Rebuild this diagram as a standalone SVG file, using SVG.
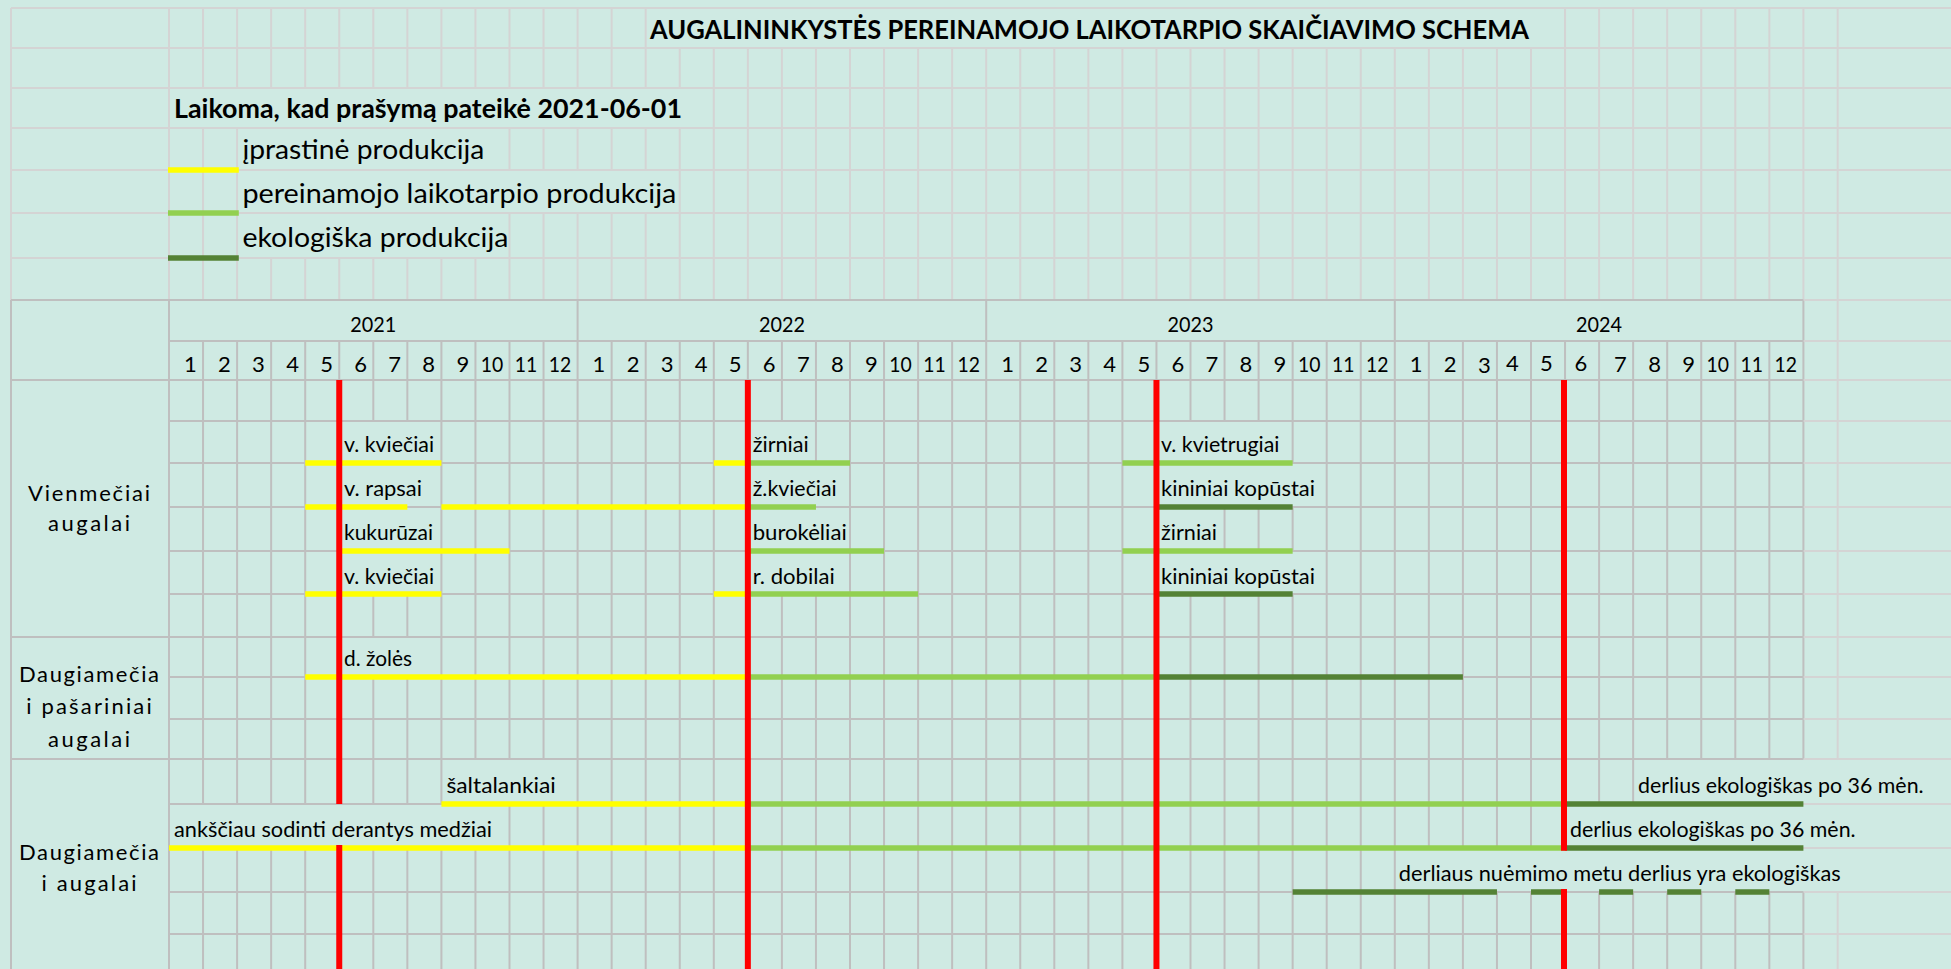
<svg xmlns="http://www.w3.org/2000/svg" width="1951" height="969" viewBox="0 0 1951 969">
<style>
.bg{fill:#CFEAE3}
.gl{stroke:#D4D4D4;stroke-width:2;fill:none}
.gd{stroke:#BFBFBF;stroke-width:2;fill:none}
.m{fill:#CFEAE3}
.by{stroke:#FFFF00;stroke-width:5.5;fill:none}
.bl{stroke:#92D050;stroke-width:5.5;fill:none}
.bd{stroke:#548235;stroke-width:5.5;fill:none}
.red{stroke:#FF0000;stroke-width:6;fill:none}
text{font-family:Lato,'Liberation Sans',sans-serif;fill:#000}
.tb{font-size:26px;font-weight:700}
.lg{font-size:27px}
.yr{font-size:22px;text-anchor:middle}
.mo{font-size:22px;text-anchor:end}
.moc{font-size:22px;text-anchor:middle}
.lb{font-size:21px}
.gp{font-size:22px;text-anchor:middle}
</style>
<rect class="bg" x="0" y="0" width="1951" height="969"/>
<g id="grid">
<path class="gl" d="M11 8V300M169 8V300M203.05 8V300M237.1 8V300M271.15 8V300M305.2 8V300M339.25 8V300M373.3 8V300M407.35 8V300M441.4 8V300M475.45 8V300M509.5 8V300M543.55 8V300M577.6 8V300M611.65 8V300M645.7 8V300M679.75 8V300M713.8 8V300M747.85 8V300M781.9 8V300M815.95 8V300M850 8V300M884.05 8V300M918.1 8V300M952.15 8V300M986.2 8V300M1020.25 8V300M1054.3 8V300M1088.35 8V300M1122.4 8V300M1156.45 8V300M1190.5 8V300M1224.55 8V300M1258.6 8V300M1292.65 8V300M1326.7 8V300M1360.75 8V300M1394.8 8V300M1428.85 8V300M1462.9 8V300M1496.95 8V300M1531 8V300M1565.05 8V300M1599.1 8V300M1633.15 8V300M1667.2 8V300M1701.25 8V300M1735.3 8V300M1769.35 8V300M1803.4 8V300M1837.7 8V969"/>
<path class="gd" d="M11 300V969M169 300V969M577.6 300V969M986.2 300V969M1394.8 300V969M1803.4 300V969M203.05 341V969M237.1 341V969M271.15 341V969M305.2 341V969M339.25 341V969M373.3 341V969M407.35 341V969M441.4 341V969M475.45 341V969M509.5 341V969M543.55 341V969M611.65 341V969M645.7 341V969M679.75 341V969M713.8 341V969M747.85 341V969M781.9 341V969M815.95 341V969M850 341V969M884.05 341V969M918.1 341V969M952.15 341V969M1020.25 341V969M1054.3 341V969M1088.35 341V969M1122.4 341V969M1156.45 341V969M1190.5 341V969M1224.55 341V969M1258.6 341V969M1292.65 341V969M1326.7 341V969M1360.75 341V969M1428.85 341V969M1462.9 341V969M1496.95 341V969M1531 341V969M1565.05 341V969M1599.1 341V969M1633.15 341V969M1667.2 341V969M1701.25 341V969M1735.3 341V969M1769.35 341V969"/>
<g id="overflow-masks">
<rect class="m" x="647.5" y="8" width="916" height="40"/>
<rect class="m" x="170.5" y="88" width="530" height="40"/>
<rect class="m" x="238.5" y="128" width="262" height="42"/>
<rect class="m" x="238.5" y="170" width="438.5" height="43"/>
<rect class="m" x="238.5" y="213" width="268.5" height="45"/>
<rect class="m" x="342" y="421" width="95" height="42"/>
<rect class="m" x="751" y="421" width="61" height="42"/>
<rect class="m" x="1159" y="421" width="130" height="42"/>
<rect class="m" x="342" y="463" width="95" height="44"/>
<rect class="m" x="751" y="463" width="95" height="44"/>
<rect class="m" x="1159" y="463" width="164" height="44"/>
<rect class="m" x="342" y="507" width="95" height="44"/>
<rect class="m" x="751" y="507" width="96" height="44"/>
<rect class="m" x="1159" y="507" width="63" height="44"/>
<rect class="m" x="342" y="551" width="95" height="43"/>
<rect class="m" x="751" y="551" width="95" height="43"/>
<rect class="m" x="1159" y="551" width="164" height="43"/>
<rect class="m" x="342" y="637" width="95" height="40"/>
<rect class="m" x="443" y="759" width="132" height="45"/>
<rect class="m" x="1635" y="759" width="316" height="45"/>
<rect class="m" x="170.5" y="804" width="336.5" height="44"/>
<rect class="m" x="1567" y="804" width="384" height="44"/>
<rect class="m" x="1396.5" y="848" width="554.5" height="44"/>
</g>
<path class="gl" d="M11 8H1951M11 48H1951M11 88H1951M11 128H1951M11 170H1951M11 213H1951M11 258H1951M1803.4 300H1951M1803.4 341H1951M1803.4 380H1951M1803.4 421H1951M1803.4 463H1951M1803.4 507H1951M1803.4 551H1951M1803.4 594H1951M1803.4 637H1951M1803.4 677H1951M1803.4 719H1951M1803.4 759H1951M1803.4 804H1951M1803.4 848H1951M1803.4 892H1951M1803.4 934H1951"/>
<path class="gd" d="M11 300H1803.4M169 341H1803.4M11 380H1803.4M169 421H1803.4M169 463H1803.4M169 507H1803.4M169 551H1803.4M169 594H1803.4M11 637H1803.4M169 677H1803.4M169 719H1803.4M11 759H1803.4M169 804H1803.4M169 848H1803.4M169 892H1803.4M169 934H1803.4"/>
</g>
<g id="title">
<text class="tb" x="650" y="39" textLength="879" lengthAdjust="spacingAndGlyphs">AUGALININKYSTĖS PEREINAMOJO LAIKOTARPIO SKAIČIAVIMO SCHEMA</text>
</g>
<g id="legend">
<text class="tb" x="174" y="118" textLength="508" lengthAdjust="spacingAndGlyphs">Laikoma, kad prašymą pateikė 2021-06-01</text>
<path class="by" d="M168 170H238.8"/>
<path class="bl" d="M168 213H238.8"/>
<path class="bd" d="M168 258H238.8"/>
<text class="lg" x="242.4" y="159" textLength="242" lengthAdjust="spacingAndGlyphs">įprastinė produkcija</text>
<text class="lg" x="242.4" y="203.3" textLength="434" lengthAdjust="spacingAndGlyphs">pereinamojo laikotarpio produkcija</text>
<text class="lg" x="242.4" y="246.7" textLength="266" lengthAdjust="spacingAndGlyphs">ekologiška produkcija</text>
</g>
<g id="header-years">
<text class="yr" x="373.3" y="332.3" textLength="46" lengthAdjust="spacingAndGlyphs">2021</text>
<text class="yr" x="781.9" y="332.3" textLength="46" lengthAdjust="spacingAndGlyphs">2022</text>
<text class="yr" x="1190.5" y="332.3" textLength="46" lengthAdjust="spacingAndGlyphs">2023</text>
<text class="yr" x="1599.1" y="332.3" textLength="46" lengthAdjust="spacingAndGlyphs">2024</text>
</g>
<g id="header-months">
<text class="mo" x="196.75" y="372.3">1</text><text class="mo" x="230.8" y="372.3">2</text><text class="mo" x="264.85" y="372.3">3</text><text class="mo" x="298.9" y="372.3">4</text><text class="mo" x="332.95" y="372.3">5</text><text class="mo" x="367" y="372.3">6</text><text class="mo" x="401.05" y="372.3">7</text><text class="mo" x="435.1" y="372.3">8</text><text class="mo" x="469.15" y="372.3">9</text><text class="mo" x="503.2" y="372.3" textLength="22.5" lengthAdjust="spacingAndGlyphs">10</text><text class="mo" x="537.25" y="372.3" textLength="22.5" lengthAdjust="spacingAndGlyphs">11</text><text class="mo" x="571.3" y="372.3" textLength="22.5" lengthAdjust="spacingAndGlyphs">12</text>
<text class="mo" x="605.35" y="372.3">1</text><text class="mo" x="639.4" y="372.3">2</text><text class="mo" x="673.45" y="372.3">3</text><text class="mo" x="707.5" y="372.3">4</text><text class="mo" x="741.55" y="372.3">5</text><text class="mo" x="775.6" y="372.3">6</text><text class="mo" x="809.65" y="372.3">7</text><text class="mo" x="843.7" y="372.3">8</text><text class="mo" x="877.75" y="372.3">9</text><text class="mo" x="911.8" y="372.3" textLength="22.5" lengthAdjust="spacingAndGlyphs">10</text><text class="mo" x="945.85" y="372.3" textLength="22.5" lengthAdjust="spacingAndGlyphs">11</text><text class="mo" x="979.9" y="372.3" textLength="22.5" lengthAdjust="spacingAndGlyphs">12</text>
<text class="mo" x="1013.95" y="372.3">1</text><text class="mo" x="1048" y="372.3">2</text><text class="mo" x="1082.05" y="372.3">3</text><text class="mo" x="1116.1" y="372.3">4</text><text class="mo" x="1150.15" y="372.3">5</text><text class="mo" x="1184.2" y="372.3">6</text><text class="mo" x="1218.25" y="372.3">7</text><text class="mo" x="1252.3" y="372.3">8</text><text class="mo" x="1286.35" y="372.3">9</text><text class="mo" x="1320.4" y="372.3" textLength="22.5" lengthAdjust="spacingAndGlyphs">10</text><text class="mo" x="1354.45" y="372.3" textLength="22.5" lengthAdjust="spacingAndGlyphs">11</text><text class="mo" x="1388.5" y="372.3" textLength="22.5" lengthAdjust="spacingAndGlyphs">12</text>
<text class="mo" x="1422.55" y="372.3">1</text><text class="mo" x="1456.6" y="372.3">2</text><text class="mo" x="1490.65" y="373.3">3</text><text class="moc" x="1512.5" y="370.7">4</text><text class="moc" x="1546.5" y="370.7">5</text><text class="moc" x="1581" y="370.7">6</text><text class="mo" x="1626.85" y="372.3">7</text><text class="mo" x="1660.9" y="372.3">8</text><text class="mo" x="1694.95" y="372.3">9</text><text class="mo" x="1729" y="372.3" textLength="22.5" lengthAdjust="spacingAndGlyphs">10</text><text class="mo" x="1763.05" y="372.3" textLength="22.5" lengthAdjust="spacingAndGlyphs">11</text><text class="mo" x="1797.1" y="372.3" textLength="22.5" lengthAdjust="spacingAndGlyphs">12</text>
</g>
<g id="group-labels">
<text class="gp" x="89" y="500.7" textLength="122" lengthAdjust="spacing">Vienmečiai</text>
<text class="gp" x="89" y="531" textLength="82" lengthAdjust="spacing">augalai</text>
<text class="gp" x="89" y="682.3" textLength="140" lengthAdjust="spacing">Daugiamečia</text>
<text class="gp" x="89" y="714.3" textLength="125.5" lengthAdjust="spacing">i pašariniai</text>
<text class="gp" x="89" y="747" textLength="82" lengthAdjust="spacing">augalai</text>
<text class="gp" x="89" y="860" textLength="140" lengthAdjust="spacing">Daugiamečia</text>
<text class="gp" x="89" y="890.7" textLength="95" lengthAdjust="spacing">i augalai</text>
</g>
<g id="connectors">
<g id="bars">
<path class="by" d="M305.2 463H441.4M713.8 463H747.85"/>
<path class="bl" d="M747.85 463H850M1122.4 463H1292.65"/>
<path class="by" d="M305.2 507H407.35M441.4 507H747.85"/>
<path class="bl" d="M747.85 507H815.95"/>
<path class="bd" d="M1156.45 507H1292.65"/>
<path class="by" d="M339.25 551H509.5"/>
<path class="bl" d="M747.85 551H884.05M1122.4 551H1292.65"/>
<path class="by" d="M305.2 594H441.4M713.8 594H747.85"/>
<path class="bl" d="M747.85 594H918.1"/>
<path class="bd" d="M1156.45 594H1292.65"/>
<path class="by" d="M305.2 677H747.85"/>
<path class="bl" d="M747.85 677H1156.45"/>
<path class="bd" d="M1156.45 677H1462.9"/>
<path class="by" d="M441.4 804H747.85"/>
<path class="bl" d="M747.85 804H1565.05"/>
<path class="bd" d="M1565.05 804H1803.4"/>
<path class="by" d="M169 848H747.85"/>
<path class="bl" d="M747.85 848H1565.05"/>
<path class="bd" d="M1565.05 848H1803.4"/>
<path class="bd" d="M1292.65 892H1496.95M1531 892H1565.05M1599.1 892H1633.15M1667.2 892H1701.25M1735.3 892H1769.35"/>
</g>
<g id="application-date-lines">
<path class="red" d="M339.25 380V804M339.25 845V969"/>
<path class="red" d="M747.85 380V969"/>
<path class="red" d="M1156.45 380V969"/>
<path class="red" d="M1564 380V850.7M1564 889V969"/>
</g>
</g>
<g id="row-labels">
<text class="lb" x="344" y="452.3" textLength="90" lengthAdjust="spacingAndGlyphs">v. kviečiai</text>
<text class="lb" x="752.7" y="452.3" textLength="56" lengthAdjust="spacingAndGlyphs">žirniai</text>
<text class="lb" x="1161" y="452.3" textLength="118.5" lengthAdjust="spacingAndGlyphs">v. kvietrugiai</text>
<text class="lb" x="344" y="496.3" textLength="78" lengthAdjust="spacingAndGlyphs">v. rapsai</text>
<text class="lb" x="752.7" y="496.3" textLength="84" lengthAdjust="spacingAndGlyphs">ž.kviečiai</text>
<text class="lb" x="1161" y="496.3" textLength="154" lengthAdjust="spacingAndGlyphs">kininiai kopūstai</text>
<text class="lb" x="344" y="540.3" textLength="89" lengthAdjust="spacingAndGlyphs">kukurūzai</text>
<text class="lb" x="752.7" y="540.3" textLength="94" lengthAdjust="spacingAndGlyphs">burokėliai</text>
<text class="lb" x="1161" y="540.3" textLength="56" lengthAdjust="spacingAndGlyphs">žirniai</text>
<text class="lb" x="344" y="583.6" textLength="90" lengthAdjust="spacingAndGlyphs">v. kviečiai</text>
<text class="lb" x="752.7" y="583.6" textLength="82" lengthAdjust="spacingAndGlyphs">r. dobilai</text>
<text class="lb" x="1161" y="583.6" textLength="154" lengthAdjust="spacingAndGlyphs">kininiai kopūstai</text>
<text class="lb" x="344" y="666" textLength="68" lengthAdjust="spacingAndGlyphs">d. žolės</text>
<text class="lb" x="446.4" y="792.7" textLength="109.4" lengthAdjust="spacingAndGlyphs">šaltalankiai</text>
<text class="lb" x="1638" y="792.7" textLength="285.6" lengthAdjust="spacingAndGlyphs">derlius ekologiškas po 36 mėn.</text>
<text class="lb" x="174" y="836.5" textLength="318" lengthAdjust="spacingAndGlyphs">ankščiau sodinti derantys medžiai</text>
<text class="lb" x="1570" y="836.5" textLength="285.6" lengthAdjust="spacingAndGlyphs">derlius ekologiškas po 36 mėn.</text>
<text class="lb" x="1398.8" y="880.5" textLength="442" lengthAdjust="spacingAndGlyphs">derliaus nuėmimo metu derlius yra ekologiškas</text>
</g>
</svg>
